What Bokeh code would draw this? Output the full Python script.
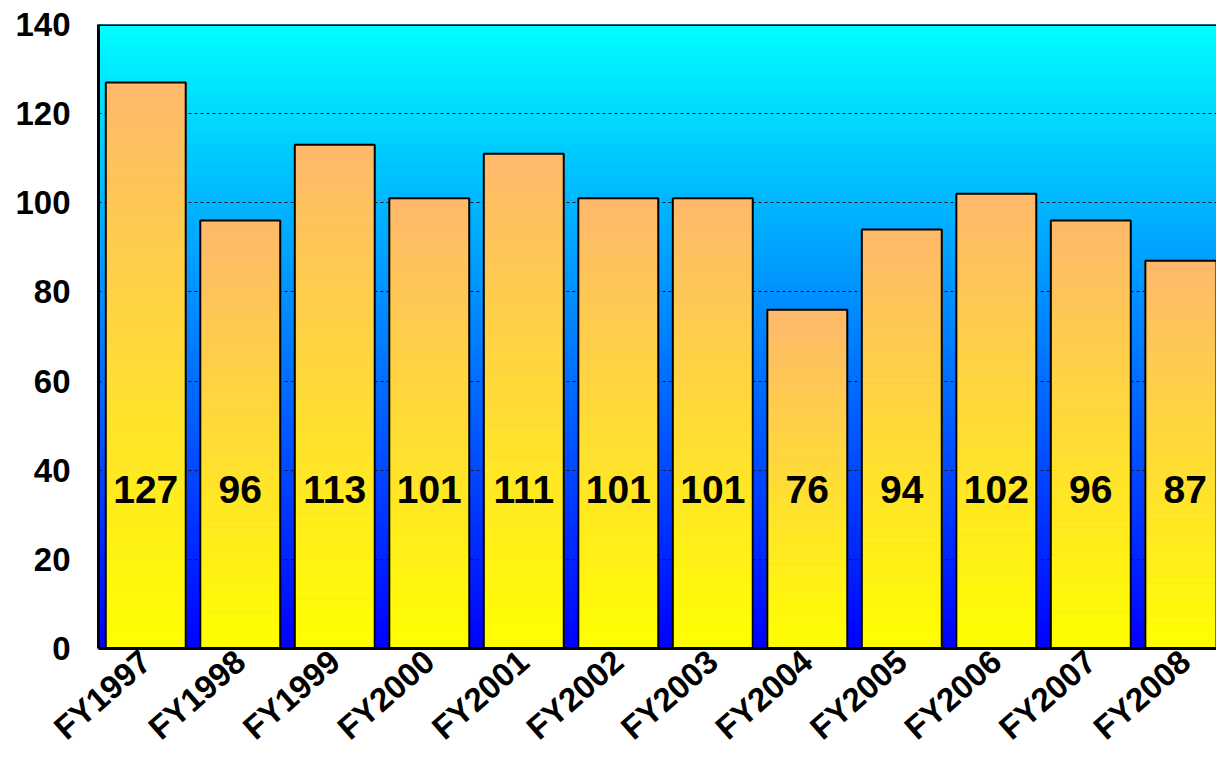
import math
from bokeh.plotting import figure
from bokeh.models import ColumnDataSource, FixedTicker, Span, Range1d
from bokeh.core.properties import value
from bokeh.embed import file_html
from bokeh.resources import INLINE

# ---- data ----
categories = ["FY1997", "FY1998", "FY1999", "FY2000", "FY2001", "FY2002",
              "FY2003", "FY2004", "FY2005", "FY2006", "FY2007", "FY2008"]
counts = [127, 96, 113, 101, 111, 101, 101, 76, 94, 102, 96, 87]
y_ticks = [0, 20, 40, 60, 80, 100, 120, 140]

FONT = "Liberation Sans"
BAR_W = 0.846
Y_MAX = 140
LABEL_Y = 35.7


def lerp(c1, c2, t):
    return "#%02x%02x%02x" % tuple(int(round(a + (b - a) * t)) for a, b in zip(c1, c2))


p = figure(width=1216, height=763, output_backend="svg", toolbar_location=None,
           x_range=Range1d(0, 11.83), y_range=Range1d(0, Y_MAX),
           min_border_left=98, min_border_right=0, min_border_top=24, min_border_bottom=115)
p.outline_line_color = None
p.background_fill_color = "#0000ff"
p.border_fill_color = "white"

# background gradient (cyan top -> blue bottom)
NB = 140
bg = dict(left=[], right=[], bottom=[], top=[], color=[])
for k in range(NB):
    b = Y_MAX * k / NB
    t = Y_MAX * (k + 1) / NB
    bg["left"].append(-1)
    bg["right"].append(len(categories) + 1)
    bg["bottom"].append(b)
    bg["top"].append(t)
    bg["color"].append(lerp((0, 0, 255), (0, 255, 255), (k + 0.5) / NB))
p.quad(left="left", right="right", bottom="bottom", top="top", source=ColumnDataSource(bg),
       fill_color="color", line_color="color", line_width=1, level="image")

# bar gradient strips (yellow bottom -> peach top)
NS = 60
bs = dict(left=[], right=[], bottom=[], top=[], color=[])
for i, v in enumerate(counts):
    for k in range(NS):
        bs["left"].append(i + 0.5 - BAR_W / 2)
        bs["right"].append(i + 0.5 + BAR_W / 2)
        bs["bottom"].append(v * k / NS)
        bs["top"].append(v * (k + 1) / NS)
        bs["color"].append(lerp((255, 255, 0), (255, 184, 108), (k + 0.5) / NS))
p.quad(left="left", right="right", bottom="bottom", top="top", source=ColumnDataSource(bs),
       fill_color="color", line_color="color", line_width=1)

xs = [i + 0.5 for i in range(len(categories))]
src = ColumnDataSource(dict(x=xs, top=counts, cat=categories,
                            lab=[str(c) for c in counts], ly=[LABEL_Y] * len(counts)))
p.vbar(x="x", top="top", bottom=0, width=BAR_W, source=src,
       fill_color=None, line_color="black", line_width=2)

p.text(x="x", y="ly", text="lab", source=src, text_align="center", text_baseline="middle",
       text_font=value(FONT), text_font_style="bold", text_font_size="39px", text_color="black")

# grid
p.xgrid.visible = False
p.ygrid.ticker = FixedTicker(ticks=y_ticks)
p.ygrid.grid_line_color = "#1a1a1a"
p.ygrid.grid_line_dash = "3 3"
p.ygrid.grid_line_width = 1
p.ygrid.level = "underlay"

p.add_layout(Span(location=Y_MAX, dimension="width", line_color="black", line_width=3))

# axes
p.yaxis.ticker = FixedTicker(ticks=y_ticks)
p.xaxis.ticker = FixedTicker(ticks=xs)
p.xaxis.major_label_overrides = {x: c for x, c in zip(xs, categories)}
p.xaxis.major_label_orientation = 0.72
for ax in (p.xaxis, p.yaxis):
    ax.axis_line_color = "black"
    ax.axis_line_width = 3
    ax.major_tick_line_color = None
    ax.minor_tick_line_color = None
    ax.major_tick_out = 0
    ax.major_tick_in = 0
    ax.minor_tick_out = 0
    ax.major_label_text_font = FONT
    ax.major_label_text_font_style = "bold"
    ax.major_label_text_font_size = "33px"
    ax.major_label_text_color = "black"
    ax.major_label_text_line_height = 1.0
p.yaxis.major_label_standoff = 28
p.xaxis.major_label_standoff = 8

open("out.html", "w").write(file_html(p, INLINE))
